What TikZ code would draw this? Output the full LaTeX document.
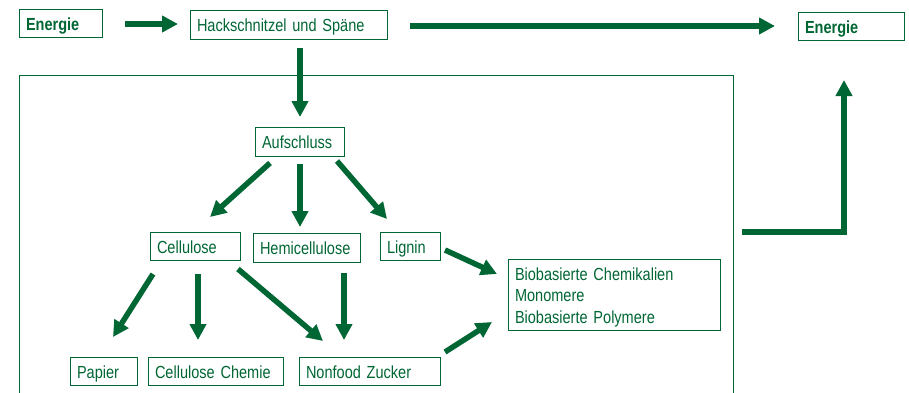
\documentclass[tikz,border=0pt]{standalone}
\usepackage{fontspec}
\setmainfont{Liberation Sans}[FakeStretch=0.83]
\usetikzlibrary{arrows.meta}
\definecolor{dg}{RGB}{0,102,51}
\begin{document}
\begin{tikzpicture}[x=1pt,y=-1pt,
  box/.style={draw=dg, line width=1pt, text=dg, inner xsep=7pt, inner ysep=0pt, outer sep=0pt,
    anchor=north west, align=left, font=\fontsize{17.5}{21.5}\selectfont,
    text height=15pt, text depth=1pt},
  frame/.style={draw=dg, line width=0.9pt, inner sep=0pt, outer sep=0pt, anchor=north west},
  arr/.style={draw=dg, line width=5.5pt, line join=miter, -{Triangle[length=16pt,width=16pt]}},
]
\useasboundingbox (0,0) rectangle (909,392);
\clip (0,0) rectangle (909,392);
\node[frame, minimum width=714pt, minimum height=340pt] (proc) at (19,75) {};
\node[box, minimum height=28pt, text width=69pt] (e1) at (19,9) {\bfseries Energie};
\node[box, minimum height=29pt, text width=183pt] (hack) at (190,10) {Hackschnitzel und Späne};
\node[box, minimum height=28pt, text width=92pt] (e2) at (798,12) {\bfseries Energie};
\node[box, minimum height=29pt, text width=75pt] (auf) at (255,127) {Aufschluss};
\node[box, minimum height=28pt, text width=76pt] (cell) at (150,232) {Cellulose};
\node[box, minimum height=29pt, text width=93pt] (hemi) at (253,233) {Hemicellulose};
\node[box, minimum height=28pt, text width=46pt] (lig) at (380,232) {Lignin};
\node[box, minimum height=28pt, text width=53pt] (pap) at (70,357) {Papier};
\node[box, minimum height=28pt, text width=121pt] (cc) at (148,357) {Cellulose Chemie};
\node[box, minimum height=28pt, text width=127pt] (nz) at (299,357) {Nonfood Zucker};
\node[box, minimum height=71pt, text width=198pt, text height=, text depth=] (bio) at (508,259)
  {\rule{0pt}{18.5pt}Biobasierte Chemikalien\\Monomere\\Biobasierte Polymere};
\draw[arr] ([shift={(23,1)}]e1.east) -- ([shift={(-12,-0.5)}]hack.west);
\draw[arr] ([shift={(23,1.5)}]hack.east) -- ([shift={(-23,0)}]e2.west);
\draw[arr] ([shift={(11.5,9)}]hack.south) -- ([shift={(0.5,-10)}]auf.north);
\draw[arr] ([shift={(15,7)}]auf.south west) -- ([shift={(15,-15)}]cell.north);
\draw[arr] ([shift={(0.5,8)}]auf.south) -- ([shift={(-6.5,-6)}]hemi.north);
\draw[arr] ([shift={(-7,5)}]auf.south east) -- ([shift={(-23,-13)}]lig.north);
\draw[arr] ([shift={(3,14)}]cell.south west) -- ([shift={(9.5,-20)}]pap.north);
\draw[arr] ([shift={(3,14)}]cell.south) -- ([shift={(-17.5,-17)}]cc.north);
\draw[arr] ([shift={(-2,9)}]cell.south east) -- ([shift={(24,-16)}]nz.north west);
\draw[arr] ([shift={(37.5,11)}]hemi.south) -- ([shift={(45,-17)}]nz.north west);
\draw[arr] ([shift={(5,4)}]lig.east) -- ([shift={(-11,-20.5)}]bio.west);
\draw[arr] ([shift={(5,-5)}]nz.north east) -- ([shift={(-16,27.5)}]bio.west);
\draw[arr] ([shift={(9,-13)}]proc.east) -| ([shift={(-7,40)}]e2.south);
\end{tikzpicture}
\end{document}
